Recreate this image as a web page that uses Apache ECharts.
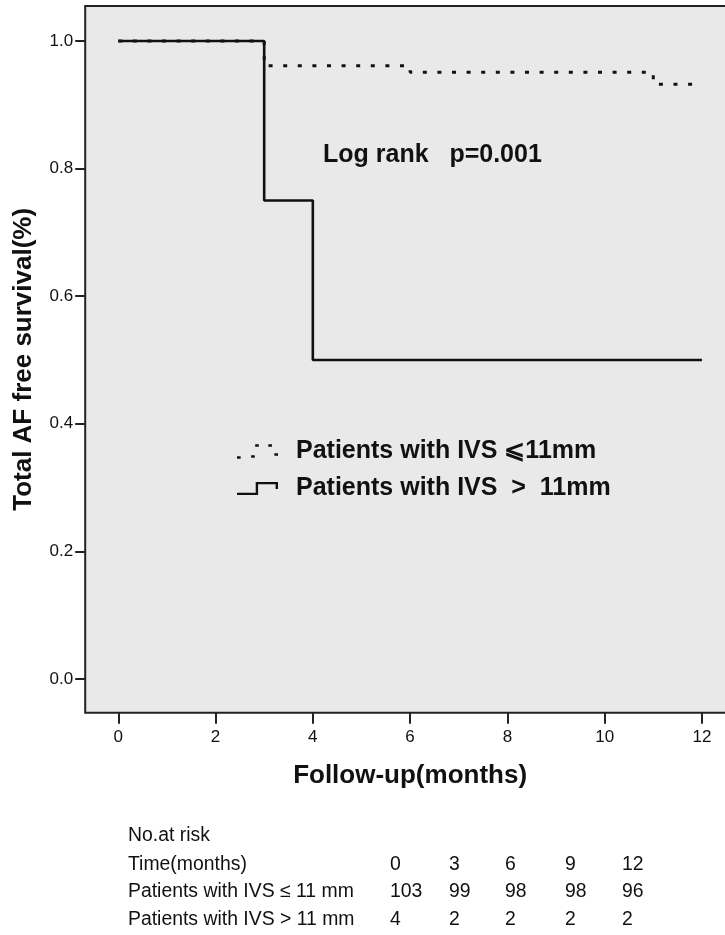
<!DOCTYPE html>
<html>
<head>
<meta charset="utf-8">
<script src="https://cdn.jsdelivr.net/npm/echarts@6/dist/echarts.min.js"></script>
<style>
  html, body { margin: 0; padding: 0; background: #fff; }
  #chart { width: 725px; height: 935px; }
</style>
</head>
<body>
<div id="chart"></div>
<script>
// Kaplan-Meier steps (months, survival)
const lowMonths = [0, 3, 6, 11, 12]
const lowSurvival = [1.0, 0.961, 0.951, 0.932, 0.932]
const highMonths = [0, 3, 4, 12]
const highSurvival = [1.0, 0.75, 0.5, 0.5]

const xTicks = [0, 2, 4, 6, 8, 10, 12]
const yTicks = [0, 0.2, 0.4, 0.6, 0.8, 1.0]

const seriesNames = ['Patients with IVS \u2A7D11mm', 'Patients with IVS  >  11mm']

// number at risk table
const riskHeader = 'No.at risk'
const riskRowLabels = ['Time(months)', 'Patients with IVS \u2264 11 mm', 'Patients with IVS > 11 mm']
const riskTimes = ['0', '3', '6', '9', '12']
const riskLow = ['103', '99', '98', '98', '96']
const riskHigh = ['4', '2', '2', '2', '2']

const FONT = 'Liberation Sans, Arial, sans-serif'
const INK = '#111'

const dotIcon = 'path://M0.3,12.8h3.6v2.6h-3.6Z M14.3,11.8h3.6v2.6h-3.6Z M18.3,0.8h3.6v2.6h-3.6Z M31.3,0.8h3.6v2.6h-3.6Z M37.3,9.8h3.6v2.6h-3.6Z'
const stepIcon = 'path://M0,10.8L18.8,10.8L18.8,0L41.2,0L41.2,7L38.8,7L38.8,2.4L21.2,2.4L21.2,13.2L0,13.2Z'

function zip(xs, ys) {
  return xs.map((x, i) => [x, ys[i]])
}

const riskCols = [390, 449, 505, 565, 622]
const riskRowsY = [837, 866, 893, 921]
const riskFont = '19.4px ' + FONT
const riskGraphics = [
  { type: 'text', left: 128, top: riskRowsY[0] - 11, style: { text: riskHeader, font: riskFont, fill: INK } }
]
const riskData = [riskTimes, riskLow, riskHigh]
riskRowLabels.forEach((lab, r) => {
  const top = riskRowsY[r + 1] - 11
  riskGraphics.push({ type: 'text', left: 128, top: top, style: { text: lab, font: riskFont, fill: INK } })
  riskData[r].forEach((v, c) => {
    riskGraphics.push({ type: 'text', left: riskCols[c], top: top, style: { text: v, font: riskFont, fill: INK } })
  })
})

const chart = echarts.init(document.getElementById('chart'))
chart.setOption({
  animation: false,
  backgroundColor: '#fff',
  grid: {
    left: 85.2,
    top: 5.9,
    width: 649.8,
    height: 706.9,
    outerBoundsMode: 'none',
    show: true,
    backgroundColor: '#e9e9e9',
    borderColor: '#222',
    borderWidth: 2
  },
  xAxis: {
    type: 'value',
    min: -0.68,
    max: 12.68,
    name: 'Follow-up(months)',
    nameLocation: 'middle',
    nameGap: 50,
    nameTextStyle: { fontFamily: FONT, fontWeight: 'bold', fontSize: 26, color: INK },
    axisLine: { show: false, onZero: false },
    splitLine: { show: false },
    axisTick: { show: true, length: 11, lineStyle: { color: '#222', width: 2 }, customValues: xTicks },
    axisLabel: { customValues: xTicks, fontFamily: FONT, fontSize: 17, color: INK, margin: 16 }
  },
  yAxis: {
    type: 'value',
    min: -0.053,
    max: 1.055,
    name: 'Total AF free survival(%)',
    nameLocation: 'middle',
    nameGap: 48,
    nameTextStyle: { fontFamily: FONT, fontWeight: 'bold', fontSize: 26, color: INK },
    axisLine: { show: false, onZero: false },
    splitLine: { show: false },
    axisTick: { show: true, length: 10, lineStyle: { color: '#222', width: 2 }, customValues: yTicks },
    axisLabel: {
      customValues: yTicks, fontFamily: FONT, fontSize: 17, color: INK, margin: 12,
      formatter: v => v.toFixed(1)
    }
  },
  legend: {
    orient: 'vertical',
    left: 232,
    top: 434,
    itemWidth: 41,
    itemHeight: 15,
    itemGap: 12,
    itemStyle: { borderWidth: 0 },
    textStyle: { fontFamily: FONT, fontWeight: 'bold', fontSize: 25, color: INK, padding: [0, 0, 0, 13] },
    data: [
      { name: seriesNames[0], icon: dotIcon },
      { name: seriesNames[1], icon: stepIcon }
    ]
  },
  graphic: [
    { type: 'text', left: 323, top: 143, style: { text: 'Log rank   p=0.001', font: 'bold 25px ' + FONT, fill: INK } }
  ].concat(riskGraphics),
  series: [
    {
      name: seriesNames[1],
      type: 'line',
      step: 'end',
      symbol: 'none',
      color: INK,
      lineStyle: { color: INK, width: 2.6 },
      data: zip(highMonths, highSurvival)
    },
    {
      name: seriesNames[0],
      type: 'line',
      step: 'end',
      symbol: 'none',
      color: INK,
      lineStyle: { color: INK, width: 3, type: [4, 10.6], cap: 'butt' },
      data: zip(lowMonths, lowSurvival)
    }
  ]
})
</script>
</body>
</html>
